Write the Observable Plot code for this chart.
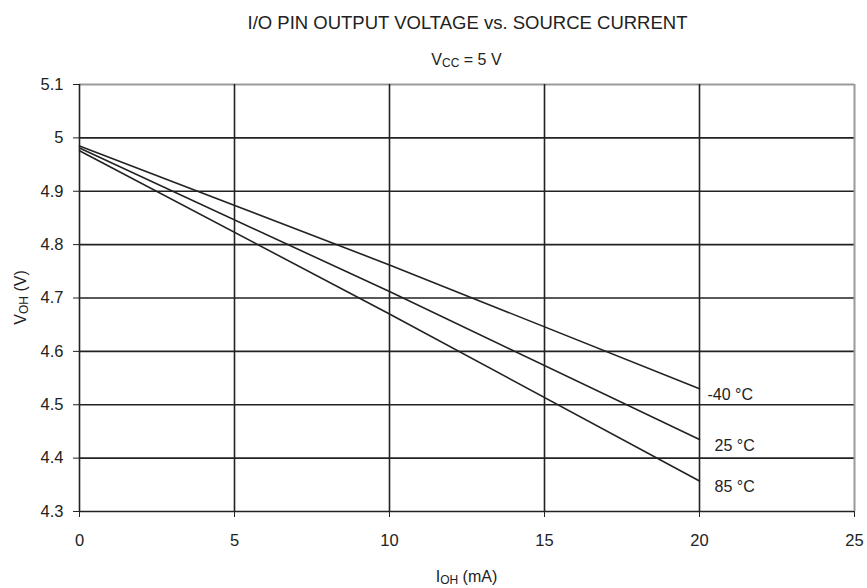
<!DOCTYPE html>
<html>
<head>
<meta charset="utf-8">
<script src="https://cdn.jsdelivr.net/npm/d3@7"></script>
<script src="https://cdn.jsdelivr.net/npm/@observablehq/plot@0.6"></script>
<style>
  body { margin: 0; background: #fff; }
  svg { font-family: "Liberation Sans", Arial, sans-serif; }
</style>
</head>
<body>
<div id="chart"></div>
<script>
// Source current I_OH (mA)
const currents = [0, 10, 20];
// V_OH (V) per temperature
const vMinus40 = [4.985, 4.762, 4.530];
const v25 = [4.981, 4.712, 4.435];
const v85 = [4.976, 4.670, 4.357];
const seriesLabels = ["-40 °C", "25 °C", "85 °C"];
const xTicks = [0, 5, 10, 15, 20, 25];
const yTicks = [4.3, 4.4, 4.5, 4.6, 4.7, 4.8, 4.9, 5, 5.1];

const series = [vMinus40, v25, v85];
const rows = series.flatMap((vals, i) => vals.map((v, j) => ({ i: currents[j], v, s: seriesLabels[i] })));
const ends = series.map((vals, i) => ({ i: currents[currents.length - 1], v: vals[vals.length - 1], s: seriesLabels[i] }));

const dark = "#222";
const grey = "#9a9a9a";

const chart = Plot.plot({
  width: 867,
  height: 588,
  marginTop: 84,
  marginBottom: 77,
  marginLeft: 79,
  marginRight: 13,
  style: { fontFamily: "Liberation Sans, Arial, sans-serif", color: dark, background: "#fff" },
  x: { domain: [0, 25], ticks: xTicks, label: null },
  y: { domain: [4.3, 5.1], ticks: yTicks, label: null },
  marks: [
    Plot.ruleY(yTicks.filter(d => d < 5.05), { stroke: dark, strokeWidth: 1.6 }),
    Plot.ruleY([5.1], { stroke: grey, strokeWidth: 2 }),
    Plot.ruleX(xTicks.filter(d => d > 0 && d < 25), { stroke: dark, strokeWidth: 1.6 }),
    Plot.ruleX([25], { stroke: grey, strokeWidth: 2 }),
    Plot.ruleX([0], { stroke: dark, strokeWidth: 1.6 }),
    Plot.axisX({ ticks: xTicks, tickSize: 6, tickPadding: 17, fontSize: 16.5, stroke: dark, label: null, tickFormat: d => String(d) }),
    Plot.axisY({ ticks: yTicks, tickSize: 6, tickPadding: 10, fontSize: 16.5, stroke: dark, label: null, tickFormat: d => String(d) }),
    Plot.line(rows, { x: "i", y: "v", z: "s", stroke: dark, strokeWidth: 1.6 }),
    Plot.text(ends, { x: "i", y: "v", text: "s", textAnchor: "start", fontSize: 16, fill: dark, dy: 6 })
  ]
});

document.getElementById("chart").appendChild(chart);

const svg = d3.select(chart);
// horizontal offsets of the end labels
svg.selectAll("g[aria-label='text'] text").each(function (d, k) {
  const t = d3.select(this);
  const dx = k === 0 ? 8 : 15;
  const tr = t.attr("transform") || "";
  t.attr("transform", tr + ` translate(${dx},0)`);
});

const cx = (79 + 854) / 2;
svg.append("text")
  .attr("x", cx + 1).attr("y", 29)
  .attr("text-anchor", "middle")
  .attr("font-size", 18.5).attr("fill", dark)
  .text("I/O PIN OUTPUT VOLTAGE vs. SOURCE CURRENT");

const sub = svg.append("text")
  .attr("x", cx).attr("y", 65)
  .attr("text-anchor", "middle")
  .attr("font-size", 16).attr("fill", dark);
sub.append("tspan").text("V");
sub.append("tspan").attr("font-size", 12).attr("dy", 2).text("CC");
sub.append("tspan").attr("dy", -2).text(" = 5 V");

const yl = svg.append("text")
  .attr("transform", `translate(26,${(84 + 511) / 2}) rotate(-90)`)
  .attr("text-anchor", "middle")
  .attr("font-size", 16).attr("fill", dark);
yl.append("tspan").text("V");
yl.append("tspan").attr("font-size", 12).attr("dy", 2).text("OH");
yl.append("tspan").attr("dy", -2).text(" (V)");

const xl = svg.append("text")
  .attr("x", cx).attr("y", 582)
  .attr("text-anchor", "middle")
  .attr("font-size", 16).attr("fill", dark);
xl.append("tspan").text("I");
xl.append("tspan").attr("font-size", 12).attr("dy", 2).text("OH");
xl.append("tspan").attr("dy", -2).text(" (mA)");
</script>
</body>
</html>
